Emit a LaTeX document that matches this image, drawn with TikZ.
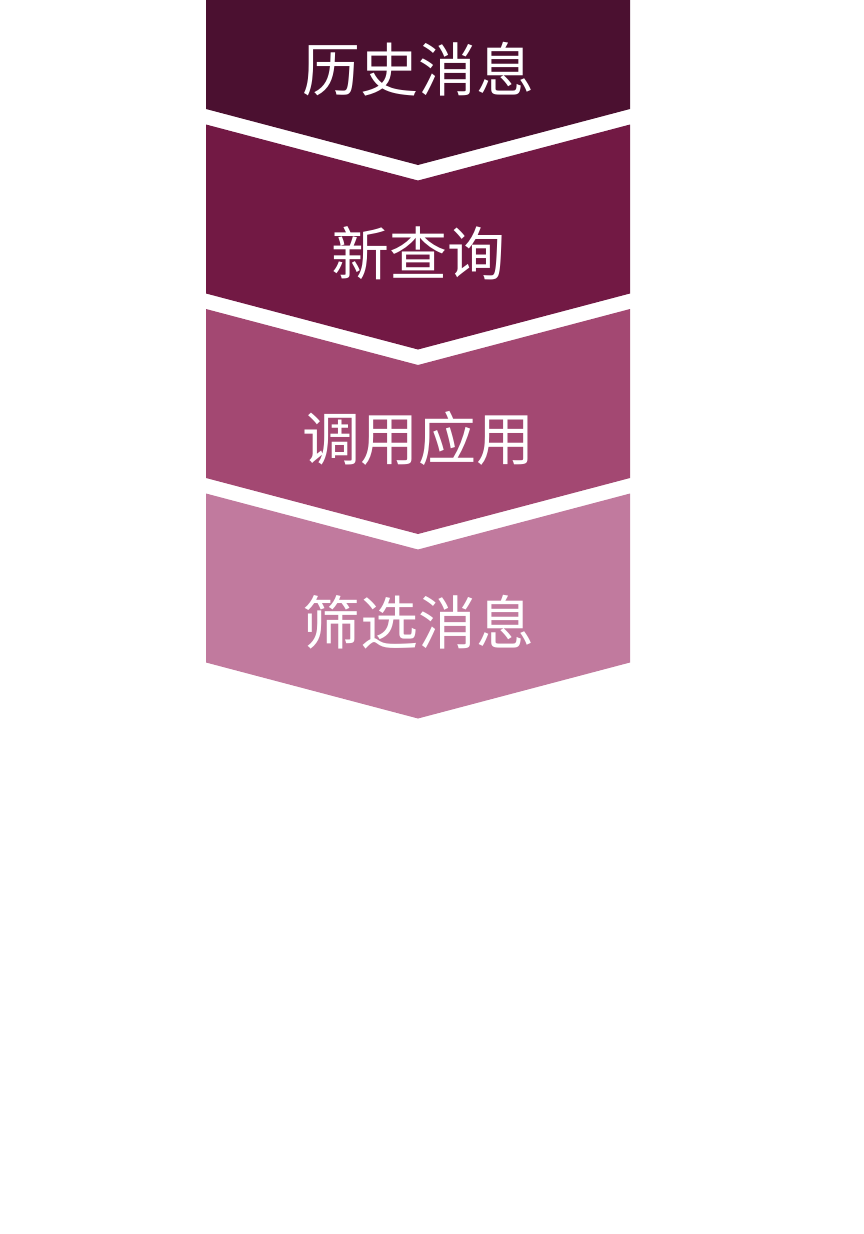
\documentclass[tikz,border=0pt]{standalone}
\usepackage{fontspec}
\setmainfont{Noto Sans CJK SC}
\definecolor{stageA}{HTML}{4B1030}
\definecolor{stageB}{HTML}{721944}
\definecolor{stageC}{HTML}{A34872}
\definecolor{stageD}{HTML}{C17A9E}
\tikzstyle{stage} = [draw=none]
\tikzstyle{stagetext} = [text=white, inner sep=0pt, font=\fontsize{58}{60}\selectfont]

\begin{document}
\begin{tikzpicture}[x=1pt,y=-1pt]
                \useasboundingbox (0,0) rectangle (864,1234);
                \clip (0,0) rectangle (864,1234);
                
                \foreach \col/\txt/\nm [count=\i from 0] in {stageA/历史消息/history, stageB/新查询/query, stageC/调用应用/invoke, stageD/筛选消息/filter} {
                    \pgfmathsetmacro{\yt}{-60+184.5*\i}
                    \fill [stage, fill=\col] (206,\yt) -- (418,\yt+56) -- (630,\yt) -- (630,\yt+169) -- (418,\yt+225) -- (206,\yt+169) -- cycle;
                    \node (\nm) [stagetext] at (418,\yt+129) {\txt};
                }
            \end{tikzpicture}
\end{document}
